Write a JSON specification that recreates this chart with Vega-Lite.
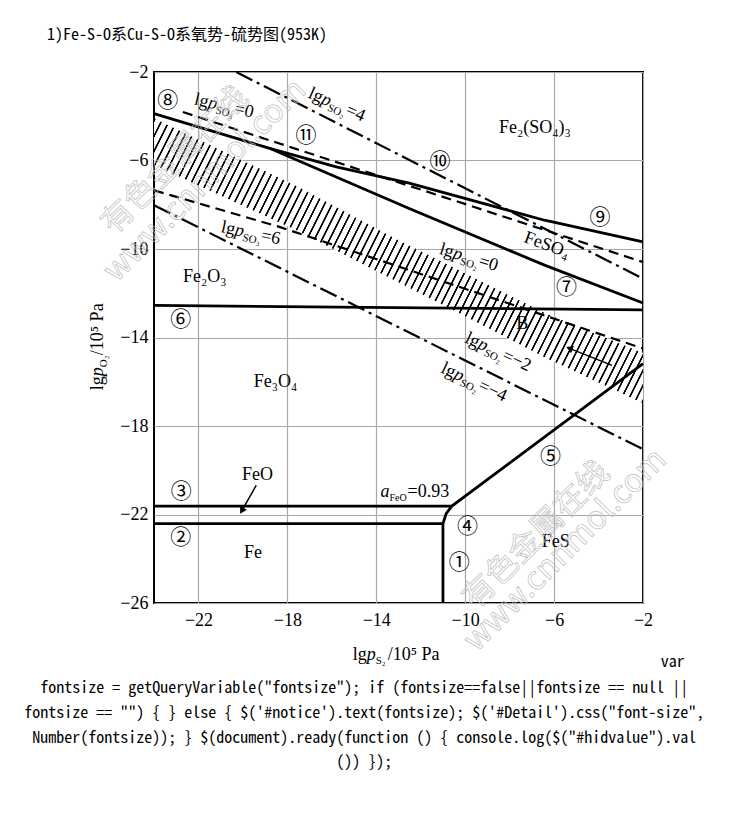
{
"$schema":"https://vega.github.io/schema/vega-lite/v6.json",
"width":489,"height":531,"autosize":"none",
"padding":{"left":154,"top":72,"right":87,"bottom":210},
"background":"#ffffff",
"title":{"text":"1)Fe-S-O系Cu-S-O系氧势-硫势图(953K)","anchor":"start","frame":"group","dx":-107,"offset":7,"baseline":"alphabetic","font":"Noto Sans Mono CJK SC, Liberation Mono, Noto Sans CJK SC","fontSize":16,"fontWeight":"normal","color":"#000"},
"config":{"view":{"stroke":"#000","strokeWidth":2},"axis":{"grid":true,"gridColor":"#a8a8a8","gridWidth":1.2,"ticks":false,"domain":false,"labelFont":"Liberation Serif","labelFontSize":18,"labelColor":"#000","labelFlush":false,"labelOverlap":false}},
"datasets":{
"band":[{"x":-24,"y":-4.1,"y2":-6.2},{"x":-17.5,"y":-7.2,"y2":-9.2},{"x":-13,"y":-9.6,"y2":-11.5},{"x":-6.4,"y":-12.9,"y2":-14.9},{"x":-2,"y":-14.7,"y2":-16.97}],
"lines":[
{"line":"L7","kind":"boundary","ord":1,"x":-24,"y":-3.88},
{"line":"L7","kind":"boundary","ord":2,"x":-18.8,"y":-5.45},
{"line":"L7","kind":"boundary","ord":3,"x":-12.52,"y":-8.17},
{"line":"L7","kind":"boundary","ord":4,"x":-6.43,"y":-10.73},
{"line":"L7","kind":"boundary","ord":5,"x":-2,"y":-12.44},
{"line":"L9","kind":"boundary","ord":1,"x":-18.8,"y":-5.45},
{"line":"L9","kind":"boundary","ord":2,"x":-15.8,"y":-6.29},
{"line":"L9","kind":"boundary","ord":3,"x":-12.52,"y":-7.02},
{"line":"L9","kind":"boundary","ord":4,"x":-6.43,"y":-8.7},
{"line":"L9","kind":"boundary","ord":5,"x":-2,"y":-9.68},
{"line":"L6","kind":"boundary","ord":1,"x":-24,"y":-12.55},
{"line":"L6","kind":"boundary","ord":2,"x":-2,"y":-12.75},
{"line":"L3","kind":"boundary","ord":1,"x":-24,"y":-21.62},
{"line":"L3","kind":"boundary","ord":2,"x":-10.6,"y":-21.62},
{"line":"L2","kind":"boundary","ord":1,"x":-24,"y":-22.41},
{"line":"L2","kind":"boundary","ord":2,"x":-11,"y":-22.41},
{"line":"L145","kind":"boundary","ord":1,"x":-11,"y":-26},
{"line":"L145","kind":"boundary","ord":2,"x":-11,"y":-22.41},
{"line":"L145","kind":"boundary","ord":3,"x":-10.85,"y":-21.95},
{"line":"L145","kind":"boundary","ord":4,"x":-10.6,"y":-21.62},
{"line":"L145","kind":"boundary","ord":5,"x":-2,"y":-15.18},
{"line":"SO3_0","kind":"pSO3","ord":1,"x":-22.7,"y":-3.81},
{"line":"SO3_0","kind":"pSO3","ord":2,"x":-2,"y":-10.59},
{"line":"SO3_6","kind":"pSO3","ord":1,"x":-24,"y":-7.35},
{"line":"SO3_6","kind":"pSO3","ord":2,"x":-18.36,"y":-9.0},
{"line":"SO3_6","kind":"pSO3","ord":3,"x":-12.97,"y":-10.8},
{"line":"SO3_6","kind":"pSO3","ord":4,"x":-6.68,"y":-12.92},
{"line":"SO3_6","kind":"pSO3","ord":5,"x":-2,"y":-14.5},
{"line":"SO2_4","kind":"pSO2","ord":1,"x":-20.3,"y":-2},
{"line":"SO2_4","kind":"pSO2","ord":2,"x":-2,"y":-11.34},
{"line":"SO2_m4","kind":"pSO2","ord":1,"x":-24,"y":-8.02},
{"line":"SO2_m4","kind":"pSO2","ord":2,"x":-2,"y":-19.05}
],
"arrows":[{"arrow":"FeO","x":-19.4,"y":-20.68,"x2":-20.05,"y2":-21.83},{"arrow":"B","x":-3.39,"y":-15.26,"x2":-5.31,"y2":-14.49}],
"heads":[{"arrow":"FeO","x":-20.05,"y":-21.83},{"arrow":"B","x":-5.31,"y":-14.49}],
"circled":[
{"t":"⑧","x":-23.38,"y":-3.33},
{"t":"⑪","x":-17.16,"y":-4.91},
{"t":"⑩","x":-11.13,"y":-6.09},
{"t":"⑨","x":-3.94,"y":-8.62},
{"t":"⑦","x":-5.44,"y":-11.76},
{"t":"⑥","x":-22.8,"y":-13.22},
{"t":"⑤","x":-6.16,"y":-19.4},
{"t":"④","x":-9.9,"y":-22.56},
{"t":"③","x":-22.77,"y":-20.98},
{"t":"②","x":-22.8,"y":-23.04},
{"t":"①","x":-10.27,"y":-24.21}],
"phases":[
{"name":"Fe₂(SO₄)₃","x":-6.86,"y":-4.55},
{"name":"Fe₂O₃","x":-21.72,"y":-11.28},
{"name":"Fe₃O₄","x":-18.53,"y":-16.02},
{"name":"FeO","x":-19.34,"y":-20.22},
{"name":"Fe","x":-19.55,"y":-23.76},
{"name":"FeS","x":-5.93,"y":-23.24},
{"name":"B","x":-7.43,"y":-13.37},
{"name":"FeSO₄","x":-6.32,"y":-9.83}],
"lgp":[
{"id":"SO3=0","kind":"curve","x":-22.22,"y":-3.46,"sub":"SO₃","tail":"=0"},
{"id":"SO2=4","kind":"curve","x":-17.1,"y":-3.14,"sub":"SO₂","tail":"=4"},
{"id":"SO3=6","kind":"curve","x":-21.02,"y":-9.23,"sub":"SO₃","tail":"=6"},
{"id":"SO2=0","kind":"curve","x":-11.2,"y":-10.21,"sub":"SO₂","tail":"=0"},
{"id":"SO2=-2","kind":"curve","x":-10.05,"y":-14.2,"sub":"SO₂","tail":"=−2"},
{"id":"SO2=-4","kind":"curve","x":-11.13,"y":-15.56,"sub":"SO₂","tail":"=−4"},
{"id":"S2","kind":"axis","x":-15.06,"y":-28.58,"sub":"S₂","tail":"/10⁵ Pa"},
{"id":"O2","kind":"axis","x":-26.3,"y":-16.38,"sub":"O₂","tail":"/10⁵ Pa"}],
"afeo":[{"x":-13.81,"y":-21.22}],
"wm":[{"t":"有色金属在线","x":-23.06,"y":-6.0},{"t":"www.cnnmol.com","x":-21.71,"y":-6.9},{"t":"有色金属在线","x":-6.8,"y":-22.94},{"t":"www.cnnmol.com","x":-5.5,"y":-23.6}],
"page":[
{"t":"var","x":-0.12,"y":-28.66},
{"t":"fontsize = getQueryVariable(\"fontsize\"); if (fontsize==false||fontsize == null ||","x":-14.54,"y":-29.82},
{"t":"fontsize == \"\") { } else { $('#notice').text(fontsize); $('#Detail').css(\"font-size\",","x":-14.54,"y":-30.97},
{"t":"Number(fontsize)); } $(document).ready(function () { console.log($(\"#hidvalue\").val","x":-14.54,"y":-32.1},
{"t":"()) });","x":-14.54,"y":-33.2}]
},
"encoding":{
"x":{"field":"x","type":"quantitative","scale":{"domain":[-24,-2],"nice":false,"zero":false},"axis":{"title":null,"values":[-22,-18,-14,-10,-6,-2],"labelPadding":8}},
"y":{"field":"y","type":"quantitative","scale":{"domain":[-26,-2],"nice":false,"zero":false},"axis":{"title":null,"values":[-2,-6,-10,-14,-18,-22,-26],"labelPadding":6}}
},
"layer":[
{"data":{"name":"band"},"mark":{"type":"area","fill":{"gradient":"linear","x1":0,"y1":0,"x2":1.1903,"y2":0.3469,"stops":[
{"offset":0,"color":"#fff"},{"offset":0.001,"color":"#000"},{"offset":0.003,"color":"#000"},{"offset":0.004,"color":"#fff"},
{"offset":0.012,"color":"#fff"},{"offset":0.013,"color":"#000"},{"offset":0.015,"color":"#000"},{"offset":0.016,"color":"#fff"},
{"offset":0.024,"color":"#fff"},{"offset":0.025,"color":"#000"},{"offset":0.027,"color":"#000"},{"offset":0.028,"color":"#fff"},
{"offset":0.036,"color":"#fff"},{"offset":0.037,"color":"#000"},{"offset":0.039,"color":"#000"},{"offset":0.04,"color":"#fff"},
{"offset":0.048,"color":"#fff"},{"offset":0.049,"color":"#000"},{"offset":0.051,"color":"#000"},{"offset":0.052,"color":"#fff"},
{"offset":0.06,"color":"#fff"},{"offset":0.061,"color":"#000"},{"offset":0.063,"color":"#000"},{"offset":0.064,"color":"#fff"},
{"offset":0.072,"color":"#fff"},{"offset":0.073,"color":"#000"},{"offset":0.075,"color":"#000"},{"offset":0.076,"color":"#fff"},
{"offset":0.084,"color":"#fff"},{"offset":0.085,"color":"#000"},{"offset":0.087,"color":"#000"},{"offset":0.088,"color":"#fff"},
{"offset":0.096,"color":"#fff"},{"offset":0.097,"color":"#000"},{"offset":0.099,"color":"#000"},{"offset":0.1,"color":"#fff"},
{"offset":0.108,"color":"#fff"},{"offset":0.109,"color":"#000"},{"offset":0.111,"color":"#000"},{"offset":0.112,"color":"#fff"},
{"offset":0.12,"color":"#fff"},{"offset":0.121,"color":"#000"},{"offset":0.123,"color":"#000"},{"offset":0.124,"color":"#fff"},
{"offset":0.132,"color":"#fff"},{"offset":0.133,"color":"#000"},{"offset":0.135,"color":"#000"},{"offset":0.136,"color":"#fff"},
{"offset":0.144,"color":"#fff"},{"offset":0.145,"color":"#000"},{"offset":0.147,"color":"#000"},{"offset":0.148,"color":"#fff"},
{"offset":0.156,"color":"#fff"},{"offset":0.157,"color":"#000"},{"offset":0.159,"color":"#000"},{"offset":0.16,"color":"#fff"},
{"offset":0.168,"color":"#fff"},{"offset":0.169,"color":"#000"},{"offset":0.171,"color":"#000"},{"offset":0.172,"color":"#fff"},
{"offset":0.18,"color":"#fff"},{"offset":0.181,"color":"#000"},{"offset":0.183,"color":"#000"},{"offset":0.184,"color":"#fff"},
{"offset":0.192,"color":"#fff"},{"offset":0.193,"color":"#000"},{"offset":0.195,"color":"#000"},{"offset":0.196,"color":"#fff"},
{"offset":0.204,"color":"#fff"},{"offset":0.205,"color":"#000"},{"offset":0.207,"color":"#000"},{"offset":0.208,"color":"#fff"},
{"offset":0.216,"color":"#fff"},{"offset":0.217,"color":"#000"},{"offset":0.219,"color":"#000"},{"offset":0.22,"color":"#fff"},
{"offset":0.228,"color":"#fff"},{"offset":0.229,"color":"#000"},{"offset":0.231,"color":"#000"},{"offset":0.232,"color":"#fff"},
{"offset":0.24,"color":"#fff"},{"offset":0.241,"color":"#000"},{"offset":0.243,"color":"#000"},{"offset":0.244,"color":"#fff"},
{"offset":0.252,"color":"#fff"},{"offset":0.253,"color":"#000"},{"offset":0.255,"color":"#000"},{"offset":0.256,"color":"#fff"},
{"offset":0.264,"color":"#fff"},{"offset":0.265,"color":"#000"},{"offset":0.267,"color":"#000"},{"offset":0.268,"color":"#fff"},
{"offset":0.276,"color":"#fff"},{"offset":0.277,"color":"#000"},{"offset":0.279,"color":"#000"},{"offset":0.28,"color":"#fff"},
{"offset":0.288,"color":"#fff"},{"offset":0.289,"color":"#000"},{"offset":0.291,"color":"#000"},{"offset":0.292,"color":"#fff"},
{"offset":0.3,"color":"#fff"},{"offset":0.301,"color":"#000"},{"offset":0.303,"color":"#000"},{"offset":0.304,"color":"#fff"},
{"offset":0.312,"color":"#fff"},{"offset":0.313,"color":"#000"},{"offset":0.315,"color":"#000"},{"offset":0.316,"color":"#fff"},
{"offset":0.324,"color":"#fff"},{"offset":0.325,"color":"#000"},{"offset":0.327,"color":"#000"},{"offset":0.328,"color":"#fff"},
{"offset":0.336,"color":"#fff"},{"offset":0.337,"color":"#000"},{"offset":0.339,"color":"#000"},{"offset":0.34,"color":"#fff"},
{"offset":0.348,"color":"#fff"},{"offset":0.349,"color":"#000"},{"offset":0.351,"color":"#000"},{"offset":0.352,"color":"#fff"},
{"offset":0.36,"color":"#fff"},{"offset":0.361,"color":"#000"},{"offset":0.363,"color":"#000"},{"offset":0.364,"color":"#fff"},
{"offset":0.372,"color":"#fff"},{"offset":0.373,"color":"#000"},{"offset":0.375,"color":"#000"},{"offset":0.376,"color":"#fff"},
{"offset":0.384,"color":"#fff"},{"offset":0.385,"color":"#000"},{"offset":0.387,"color":"#000"},{"offset":0.388,"color":"#fff"},
{"offset":0.396,"color":"#fff"},{"offset":0.397,"color":"#000"},{"offset":0.399,"color":"#000"},{"offset":0.4,"color":"#fff"},
{"offset":0.408,"color":"#fff"},{"offset":0.409,"color":"#000"},{"offset":0.411,"color":"#000"},{"offset":0.412,"color":"#fff"},
{"offset":0.42,"color":"#fff"},{"offset":0.421,"color":"#000"},{"offset":0.423,"color":"#000"},{"offset":0.424,"color":"#fff"},
{"offset":0.432,"color":"#fff"},{"offset":0.433,"color":"#000"},{"offset":0.435,"color":"#000"},{"offset":0.436,"color":"#fff"},
{"offset":0.444,"color":"#fff"},{"offset":0.445,"color":"#000"},{"offset":0.447,"color":"#000"},{"offset":0.448,"color":"#fff"},
{"offset":0.456,"color":"#fff"},{"offset":0.457,"color":"#000"},{"offset":0.459,"color":"#000"},{"offset":0.46,"color":"#fff"},
{"offset":0.468,"color":"#fff"},{"offset":0.469,"color":"#000"},{"offset":0.471,"color":"#000"},{"offset":0.472,"color":"#fff"},
{"offset":0.48,"color":"#fff"},{"offset":0.481,"color":"#000"},{"offset":0.483,"color":"#000"},{"offset":0.484,"color":"#fff"},
{"offset":0.492,"color":"#fff"},{"offset":0.493,"color":"#000"},{"offset":0.495,"color":"#000"},{"offset":0.496,"color":"#fff"},
{"offset":0.504,"color":"#fff"},{"offset":0.505,"color":"#000"},{"offset":0.507,"color":"#000"},{"offset":0.508,"color":"#fff"},
{"offset":0.516,"color":"#fff"},{"offset":0.517,"color":"#000"},{"offset":0.519,"color":"#000"},{"offset":0.52,"color":"#fff"},
{"offset":0.528,"color":"#fff"},{"offset":0.529,"color":"#000"},{"offset":0.531,"color":"#000"},{"offset":0.532,"color":"#fff"},
{"offset":0.54,"color":"#fff"},{"offset":0.541,"color":"#000"},{"offset":0.543,"color":"#000"},{"offset":0.544,"color":"#fff"},
{"offset":0.552,"color":"#fff"},{"offset":0.553,"color":"#000"},{"offset":0.555,"color":"#000"},{"offset":0.556,"color":"#fff"},
{"offset":0.564,"color":"#fff"},{"offset":0.565,"color":"#000"},{"offset":0.567,"color":"#000"},{"offset":0.568,"color":"#fff"},
{"offset":0.576,"color":"#fff"},{"offset":0.577,"color":"#000"},{"offset":0.579,"color":"#000"},{"offset":0.58,"color":"#fff"},
{"offset":0.588,"color":"#fff"},{"offset":0.589,"color":"#000"},{"offset":0.591,"color":"#000"},{"offset":0.592,"color":"#fff"},
{"offset":0.6,"color":"#fff"},{"offset":0.601,"color":"#000"},{"offset":0.603,"color":"#000"},{"offset":0.604,"color":"#fff"},
{"offset":0.612,"color":"#fff"},{"offset":0.613,"color":"#000"},{"offset":0.615,"color":"#000"},{"offset":0.616,"color":"#fff"},
{"offset":0.624,"color":"#fff"},{"offset":0.625,"color":"#000"},{"offset":0.627,"color":"#000"},{"offset":0.628,"color":"#fff"},
{"offset":0.636,"color":"#fff"},{"offset":0.637,"color":"#000"},{"offset":0.639,"color":"#000"},{"offset":0.64,"color":"#fff"},
{"offset":0.648,"color":"#fff"},{"offset":0.649,"color":"#000"},{"offset":0.651,"color":"#000"},{"offset":0.652,"color":"#fff"},
{"offset":0.66,"color":"#fff"},{"offset":0.661,"color":"#000"},{"offset":0.663,"color":"#000"},{"offset":0.664,"color":"#fff"},
{"offset":0.672,"color":"#fff"},{"offset":0.673,"color":"#000"},{"offset":0.675,"color":"#000"},{"offset":0.676,"color":"#fff"},
{"offset":0.684,"color":"#fff"},{"offset":0.685,"color":"#000"},{"offset":0.687,"color":"#000"},{"offset":0.688,"color":"#fff"},
{"offset":0.696,"color":"#fff"},{"offset":0.697,"color":"#000"},{"offset":0.699,"color":"#000"},{"offset":0.7,"color":"#fff"},
{"offset":0.708,"color":"#fff"},{"offset":0.709,"color":"#000"},{"offset":0.711,"color":"#000"},{"offset":0.712,"color":"#fff"},
{"offset":0.72,"color":"#fff"},{"offset":0.721,"color":"#000"},{"offset":0.723,"color":"#000"},{"offset":0.724,"color":"#fff"},
{"offset":0.732,"color":"#fff"},{"offset":0.733,"color":"#000"},{"offset":0.735,"color":"#000"},{"offset":0.736,"color":"#fff"},
{"offset":0.744,"color":"#fff"},{"offset":0.745,"color":"#000"},{"offset":0.747,"color":"#000"},{"offset":0.748,"color":"#fff"},
{"offset":0.756,"color":"#fff"},{"offset":0.757,"color":"#000"},{"offset":0.759,"color":"#000"},{"offset":0.76,"color":"#fff"},
{"offset":0.768,"color":"#fff"},{"offset":0.769,"color":"#000"},{"offset":0.771,"color":"#000"},{"offset":0.772,"color":"#fff"},
{"offset":0.78,"color":"#fff"},{"offset":0.781,"color":"#000"},{"offset":0.783,"color":"#000"},{"offset":0.784,"color":"#fff"},
{"offset":0.792,"color":"#fff"},{"offset":0.793,"color":"#000"},{"offset":0.795,"color":"#000"},{"offset":0.796,"color":"#fff"},
{"offset":0.804,"color":"#fff"},{"offset":0.805,"color":"#000"},{"offset":0.807,"color":"#000"},{"offset":0.808,"color":"#fff"},
{"offset":0.816,"color":"#fff"},{"offset":0.817,"color":"#000"},{"offset":0.819,"color":"#000"},{"offset":0.82,"color":"#fff"},
{"offset":0.828,"color":"#fff"},{"offset":0.829,"color":"#000"},{"offset":0.831,"color":"#000"},{"offset":0.832,"color":"#fff"},
{"offset":0.84,"color":"#fff"},{"offset":0.841,"color":"#000"},{"offset":0.843,"color":"#000"},{"offset":0.844,"color":"#fff"},
{"offset":0.852,"color":"#fff"},{"offset":0.853,"color":"#000"},{"offset":0.855,"color":"#000"},{"offset":0.856,"color":"#fff"},
{"offset":0.864,"color":"#fff"},{"offset":0.865,"color":"#000"},{"offset":0.867,"color":"#000"},{"offset":0.868,"color":"#fff"},
{"offset":0.876,"color":"#fff"},{"offset":0.877,"color":"#000"},{"offset":0.879,"color":"#000"},{"offset":0.88,"color":"#fff"},
{"offset":0.888,"color":"#fff"},{"offset":0.889,"color":"#000"},{"offset":0.891,"color":"#000"},{"offset":0.892,"color":"#fff"},
{"offset":0.9,"color":"#fff"},{"offset":0.901,"color":"#000"},{"offset":0.903,"color":"#000"},{"offset":0.904,"color":"#fff"},
{"offset":0.912,"color":"#fff"},{"offset":0.913,"color":"#000"},{"offset":0.915,"color":"#000"},{"offset":0.916,"color":"#fff"},
{"offset":0.924,"color":"#fff"},{"offset":0.925,"color":"#000"},{"offset":0.927,"color":"#000"},{"offset":0.928,"color":"#fff"},
{"offset":0.936,"color":"#fff"},{"offset":0.937,"color":"#000"},{"offset":0.939,"color":"#000"},{"offset":0.94,"color":"#fff"},
{"offset":0.948,"color":"#fff"},{"offset":0.949,"color":"#000"},{"offset":0.951,"color":"#000"},{"offset":0.952,"color":"#fff"},
{"offset":0.96,"color":"#fff"},{"offset":0.961,"color":"#000"},{"offset":0.963,"color":"#000"},{"offset":0.964,"color":"#fff"},
{"offset":0.972,"color":"#fff"},{"offset":0.973,"color":"#000"},{"offset":0.975,"color":"#000"},{"offset":0.976,"color":"#fff"},
{"offset":0.984,"color":"#fff"},{"offset":0.985,"color":"#000"},{"offset":0.987,"color":"#000"},{"offset":0.988,"color":"#fff"},
{"offset":0.996,"color":"#fff"},{"offset":0.997,"color":"#000"},{"offset":0.999,"color":"#000"},{"offset":1,"color":"#fff"}
]}},"encoding":{"y2":{"field":"y2"}}},
{"data":{"name":"lines"},"transform":[{"filter":"datum.kind === 'boundary'"}],"mark":{"type":"line","color":"#000","strokeWidth":2.8},"encoding":{"detail":{"field":"line","type":"nominal"},"order":{"field":"ord","type":"quantitative"}}},
{"data":{"name":"lines"},"transform":[{"filter":"datum.kind === 'pSO3'"}],"mark":{"type":"line","color":"#000","strokeWidth":2.2,"strokeDash":[10,6]},"encoding":{"detail":{"field":"line","type":"nominal"},"order":{"field":"ord","type":"quantitative"}}},
{"data":{"name":"lines"},"transform":[{"filter":"datum.kind === 'pSO2'"}],"mark":{"type":"line","color":"#000","strokeWidth":2.2,"strokeDash":[18,5,3,5]},"encoding":{"detail":{"field":"line","type":"nominal"},"order":{"field":"ord","type":"quantitative"}}},
{"data":{"name":"arrows"},"mark":{"type":"rule","color":"#000","strokeWidth":1.5},"encoding":{"x2":{"field":"x2"},"y2":{"field":"y2"}}},
{"data":{"name":"heads"},"transform":[{"filter":"datum.arrow === 'FeO'"}],"mark":{"type":"point","shape":"triangle-up","filled":true,"color":"#000","opacity":1,"size":60,"angle":210}},
{"data":{"name":"heads"},"transform":[{"filter":"datum.arrow === 'B'"}],"mark":{"type":"point","shape":"triangle-up","filled":true,"color":"#000","opacity":1,"size":60,"angle":292}},
{"data":{"name":"circled"},"mark":{"type":"text","font":"Noto Sans CJK SC","fontSize":21,"align":"center","baseline":"middle","color":"#000"},"encoding":{"text":{"field":"t","type":"nominal"}}},
{"data":{"name":"phases"},"transform":[{"filter":"datum.name !== 'FeSO₄'"}],"mark":{"type":"text","font":"Liberation Serif","fontSize":18,"align":"center","baseline":"middle","color":"#000"},"encoding":{"text":{"field":"name","type":"nominal"}}},
{"data":{"name":"phases"},"transform":[{"filter":"datum.name === 'FeSO₄'"}],"mark":{"type":"text","font":"Liberation Serif","fontSize":18,"align":"center","baseline":"middle","color":"#000","angle":20},"encoding":{"text":{"field":"name","type":"nominal"}}},
{"data":{"name":"lgp"},"mark":{"type":"text","font":"Liberation Serif","fontSize":18,"align":"left","baseline":"alphabetic","color":"#000"},"encoding":{"text":{"value":"lg"},"angle":{"field":"id","type":"nominal","scale":{"type":"ordinal","domain":["SO3=0","SO2=4","SO3=6","SO2=0","SO2=-2","SO2=-4","S2","O2"],"range":[13,24,12,17,25,25,0,270]},"legend":null}}},
{"data":{"name":"lgp"},"mark":{"type":"text","font":"Liberation Serif","fontSize":18,"fontStyle":"italic","align":"left","baseline":"alphabetic","color":"#000","dx":14},"encoding":{"text":{"value":"p"},"angle":{"field":"id","type":"nominal","scale":{"type":"ordinal","domain":["SO3=0","SO2=4","SO3=6","SO2=0","SO2=-2","SO2=-4","S2","O2"],"range":[13,24,12,17,25,25,0,270]},"legend":null}}},
{"data":{"name":"lgp"},"mark":{"type":"text","font":"Liberation Serif","fontSize":11,"align":"left","baseline":"alphabetic","color":"#000","dx":23,"dy":4},"encoding":{"text":{"field":"sub","type":"nominal"},"angle":{"field":"id","type":"nominal","scale":{"type":"ordinal","domain":["SO3=0","SO2=4","SO3=6","SO2=0","SO2=-2","SO2=-4","S2","O2"],"range":[13,24,12,17,25,25,0,270]},"legend":null}}},
{"data":{"name":"lgp"},"transform":[{"filter":"datum.kind === 'curve'"}],"mark":{"type":"text","font":"Liberation Serif","fontSize":18,"align":"left","baseline":"alphabetic","color":"#000","dx":41},"encoding":{"text":{"field":"tail","type":"nominal"},"angle":{"field":"id","type":"nominal","scale":{"type":"ordinal","domain":["SO3=0","SO2=4","SO3=6","SO2=0","SO2=-2","SO2=-4","S2","O2"],"range":[13,24,12,17,25,25,0,270]},"legend":null}}},
{"data":{"name":"lgp"},"transform":[{"filter":"datum.kind === 'axis'"}],"mark":{"type":"text","font":"Liberation Serif","fontSize":18,"align":"left","baseline":"alphabetic","color":"#000","dx":35},"encoding":{"text":{"field":"tail","type":"nominal"},"angle":{"field":"id","type":"nominal","scale":{"type":"ordinal","domain":["SO3=0","SO2=4","SO3=6","SO2=0","SO2=-2","SO2=-4","S2","O2"],"range":[13,24,12,17,25,25,0,270]},"legend":null}}},
{"data":{"name":"afeo"},"mark":{"type":"text","font":"Liberation Serif","fontSize":18,"fontStyle":"italic","align":"left","baseline":"alphabetic","color":"#000"},"encoding":{"text":{"value":"a"}}},
{"data":{"name":"afeo"},"mark":{"type":"text","font":"Liberation Serif","fontSize":10,"align":"left","baseline":"alphabetic","color":"#000","dx":9,"dy":4},"encoding":{"text":{"value":"FeO"}}},
{"data":{"name":"afeo"},"mark":{"type":"text","font":"Liberation Serif","fontSize":18,"align":"left","baseline":"alphabetic","color":"#000","dx":27},"encoding":{"text":{"value":"=0.93"}}},
{"data":{"name":"wm"},"mark":{"type":"text","font":"Noto Sans CJK SC","fontSize":32,"align":"center","baseline":"middle","angle":315,"fill":"#ffffff","fillOpacity":0,"stroke":"#bdbdbd","strokeWidth":0.7},"encoding":{"text":{"field":"t","type":"nominal"}}},
{"data":{"name":"page"},"transform":[{"filter":"datum.t !== 'var'"}],"mark":{"type":"text","font":"Noto Sans Mono CJK SC, Liberation Mono","fontSize":16,"align":"center","baseline":"middle","color":"#000"},"encoding":{"text":{"field":"t","type":"nominal"}}},
{"data":{"name":"page"},"transform":[{"filter":"datum.t === 'var'"}],"mark":{"type":"text","font":"Noto Sans Mono CJK SC, Liberation Mono","fontSize":16,"align":"right","baseline":"middle","color":"#000"},"encoding":{"text":{"field":"t","type":"nominal"}}}
]
}
